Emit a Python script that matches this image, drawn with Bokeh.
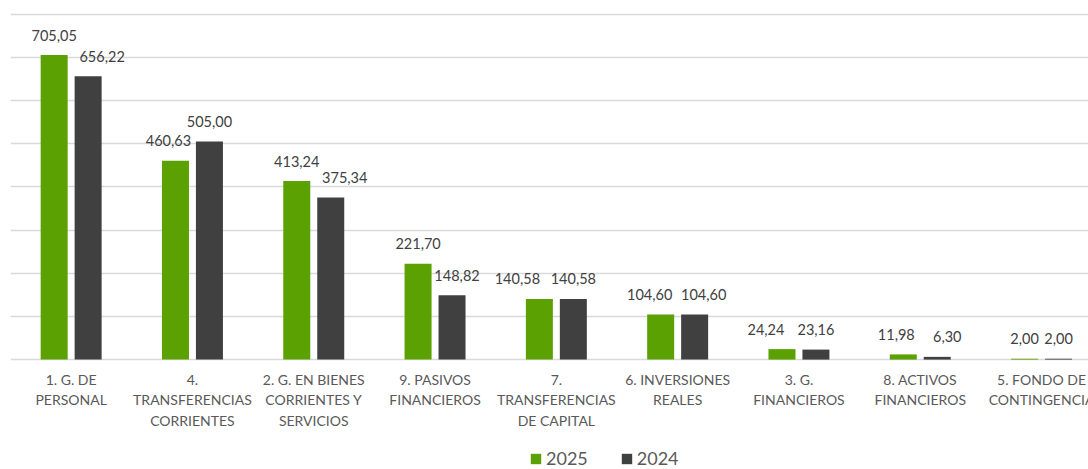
from bokeh.plotting import figure
from bokeh.models import (ColumnDataSource, Range1d, FixedTicker, Legend, LegendItem)
from bokeh.core.properties import value
from bokeh.embed import file_html
from bokeh.resources import INLINE

categories = [
    "1. G. DE\nPERSONAL",
    "4.\nTRANSFERENCIAS\nCORRIENTES",
    "2. G. EN BIENES\nCORRIENTES Y\nSERVICIOS",
    "9. PASIVOS\nFINANCIEROS",
    "7.\nTRANSFERENCIAS\nDE CAPITAL",
    "6. INVERSIONES\nREALES",
    "3. G.\nFINANCIEROS",
    "8. ACTIVOS\nFINANCIEROS",
    "5. FONDO DE\nCONTINGENCIA",
]
values_2025 = [705.05, 460.63, 413.24, 221.70, 140.58, 104.60, 24.24, 11.98, 2.00]
values_2024 = [656.22, 505.00, 375.34, 148.82, 140.58, 104.60, 23.16, 6.30, 2.00]
series_names = ["2025", "2024"]

# label nudges (px), style only
nudge_2025 = [0, -7, 0, 0, -22, -11, -16, -7, 0]
nudge_2024 = [14, 0, 14, 5, 0, 9, 0, 10, 0]

GREEN = "#5ba102"
DARK = "#404040"
FONT = "Lato"

n = len(categories)
centers = [i + 0.5 for i in range(n)]
off = 0.14
bw = 0.2226

def fmt(v):
    return f"{v:.2f}".replace(".", ",")

src25 = ColumnDataSource(dict(x=[c - off for c in centers], top=values_2025,
                              lab=[fmt(v) for v in values_2025], dx=nudge_2025))
src24 = ColumnDataSource(dict(x=[c + off for c in centers], top=values_2024,
                              lab=[fmt(v) for v in values_2024], dx=nudge_2024))
srccat = ColumnDataSource(dict(x=centers, y=[0] * n, lab=categories))

p = figure(width=1088, height=469, output_backend="svg", toolbar_location=None,
           x_range=Range1d(0, 8.887), y_range=Range1d(-254.5, 806),
           min_border_left=10, min_border_right=0, min_border_top=11, min_border_bottom=0)
p.outline_line_color = None
p.background_fill_color = "white"
p.border_fill_color = "white"
p.xaxis.visible = False
p.yaxis.visible = False

p.ygrid.ticker = FixedTicker(ticks=[100 * k for k in range(0, 9)])
p.ygrid.grid_line_color = "#d9d9d9"
p.ygrid.grid_line_width = 1.3
p.xgrid.visible = False

r25 = p.vbar(x="x", top="top", width=bw, source=src25, fill_color=GREEN, line_color=None)
r24 = p.vbar(x="x", top="top", width=bw, source=src24, fill_color=DARK, line_color=None)

for s in (src25, src24):
    p.text(x="x", y="top", text="lab", source=s, x_offset="dx", y_offset=-20,
           text_align="center", text_baseline="alphabetic",
           text_font=value(FONT), text_font_size="14.5px", text_color="#404040")

# category labels under the baseline
p.text(x="x", y="y", text="lab", source=srccat, y_offset=11,
       text_align="center", text_baseline="top", text_line_height=1.22,
       text_font=value(FONT), text_font_size="14px", text_color="#595959")

legend = Legend(items=[LegendItem(label=series_names[0], renderers=[r25]),
                       LegendItem(label=series_names[1], renderers=[r24])],
                orientation="horizontal", location=(519, 0),
                glyph_width=13, glyph_height=13, label_standoff=4, spacing=32,
                label_text_font=FONT, label_text_font_size="18px",
                label_text_color="#595959", border_line_color=None,
                background_fill_alpha=0, padding=0, margin=0)
p.add_layout(legend, "center")

open("out.html", "w").write(file_html(p, INLINE))
